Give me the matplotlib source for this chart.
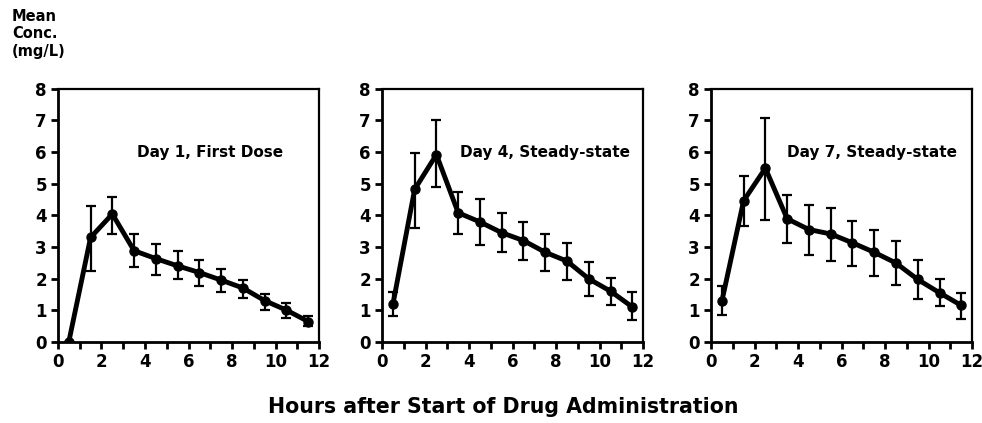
import numpy as np
import matplotlib.pyplot as plt

plt.rcParams['font.family'] = ['DejaVu Sans']
plt.rcParams['font.weight'] = 'bold'

hours = [0.5, 1.5, 2.5, 3.5, 4.5, 5.5, 6.5, 7.5, 8.5, 9.5, 10.5, 11.5]

# Day 1, first dose
d1_mean = [0.0, 3.3, 4.04, 2.88, 2.63, 2.4, 2.19, 1.95, 1.7, 1.3, 1.0, 0.64]
d1_low = [0.0, 2.24, 3.4, 2.38, 2.1, 2.0, 1.77, 1.58, 1.4, 1.0, 0.74, 0.5]
d1_high = [0.0, 4.3, 4.58, 3.4, 3.09, 2.86, 2.59, 2.3, 1.95, 1.5, 1.24, 0.82]

# Day 4, steady-state
d4_mean = [1.18, 4.82, 5.92, 4.08, 3.79, 3.45, 3.2, 2.83, 2.55, 1.99, 1.6, 1.1]
d4_low = [0.81, 3.6, 4.9, 3.42, 3.05, 2.83, 2.58, 2.24, 1.94, 1.44, 1.15, 0.68]
d4_high = [1.57, 5.97, 7.03, 4.73, 4.5, 4.08, 3.79, 3.42, 3.13, 2.52, 2.02, 1.57]

# Day 7, steady-state
d7_mean = [1.28, 4.46, 5.49, 3.89, 3.55, 3.41, 3.13, 2.83, 2.49, 1.97, 1.55, 1.15]
d7_low = [0.84, 3.65, 3.84, 3.13, 2.73, 2.57, 2.39, 2.07, 1.81, 1.36, 1.13, 0.73]
d7_high = [1.78, 5.23, 7.07, 4.65, 4.34, 4.23, 3.81, 3.53, 3.2, 2.6, 2.0, 1.55]

titles = ["Day 1, First Dose", "Day 4, Steady-state", "Day 7, Steady-state"]
text_x = [7.0, 7.5, 7.4]

fig = plt.figure(figsize=(9.82, 4.23), dpi=100)
lefts = [0.059, 0.389, 0.724]
series = [(d1_mean, d1_low, d1_high), (d4_mean, d4_low, d4_high), (d7_mean, d7_low, d7_high)]

for i, (m, lo, hi) in enumerate(series):
    ax = fig.add_axes([lefts[i], 0.192, 0.266, 0.598])
    m = np.array(m)
    yerr = [m - np.array(lo), np.array(hi) - m]
    ax.errorbar(hours, m, yerr=yerr, color='black', lw=3.5, marker='o', ms=6.5,
                elinewidth=1.6, capsize=3.5, capthick=1.6)
    ax.set_xlim(0, 12)
    ax.set_ylim(0, 8)
    ax.set_xticks(range(0, 13, 2))
    ax.set_xticks(range(1, 12, 2), minor=True)
    ax.set_yticks(range(0, 9))
    ax.tick_params(which='major', direction='out', length=5, width=2, labelsize=12, pad=3)
    ax.tick_params(which='minor', direction='out', length=5, width=2)
    for lab in ax.get_xticklabels() + ax.get_yticklabels():
        lab.set_fontweight('heavy')
    for s in ['left', 'bottom']:
        ax.spines[s].set_linewidth(2)
    for s in ['top', 'right']:
        ax.spines[s].set_linewidth(1.6)
    ax.text(text_x[i], 6.0, titles[i], ha='center', va='center', fontsize=11, fontweight='heavy')

fig.text(0.012, 0.92, "Mean\nConc.\n(mg/L)", ha='left', va='center', fontsize=10.5,
         fontweight='heavy', linespacing=1.2, multialignment='left')
fig.text(0.512, 0.038, "Hours after Start of Drug Administration", ha='center', va='center',
         fontsize=14.8, fontweight='heavy')

fig.savefig('out.png', dpi=100)
